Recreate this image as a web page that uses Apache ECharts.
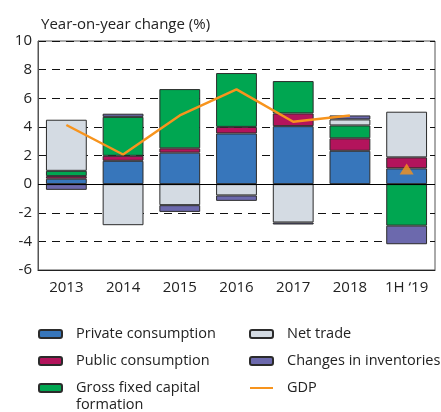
<!DOCTYPE html>
<html>
<head>
<meta charset="utf-8">
<script src="https://cdn.jsdelivr.net/npm/echarts@6/dist/echarts.min.js"></script>
<style>
  html, body { margin: 0; padding: 0; background: #fff; }
  #chart { width: 441px; height: 412px; }
</style>
</head>
<body>
<div id="chart"></div>
<script>
// categories and values (percentage points)
const years = ['2013', '2014', '2015', '2016', '2017', '2018', '1H \u201819']
const privateCons = [0.38, 1.63, 2.2, 3.54, 4.05, 2.33, 1.1]
const publicCons = [0.18, 0.35, 0.3, 0.46, 0.89, 0.87, 0.77]
const grossFixed = [0.37, 2.72, 4.14, 3.76, 2.26, 0.9, -2.9]
const netTrade = [3.57, -2.87, -1.47, -0.79, -2.68, 0.42, 3.19]
const inventories = [-0.4, 0.22, -0.47, -0.38, -0.14, 0.28, -1.3]
const gdp = [4.13, 2.07, 4.8, 6.62, 4.36, 4.8, null]
const gdpHalf = [null, null, null, null, null, null, 1.05]
const yTicks = { min: -6, max: 10, step: 2 }

const font = 'Open Sans'
const border = '#2b2b2b'

function barSeries(name, data, color) {
  return {
    name: name,
    type: 'bar',
    stack: 'total',
    barWidth: '72%',
    data: data,
    itemStyle: { color: color, borderColor: border, borderWidth: 1 },
  }
}

const legendText = { fontFamily: font, fontSize: 14.5, color: '#222', lineHeight: 16, padding: [0, 0, 0, 9] }

const chart = echarts.init(document.getElementById('chart'))
chart.setOption({
  animation: false,
  textStyle: { fontFamily: font },
  title: {
    text: 'Year-on-year change (%)',
    left: 36,
    top: 12,
    textStyle: { fontFamily: font, fontSize: 15, fontWeight: 'normal', color: '#222' },
  },
  grid: {
    left: 38, right: 6, top: 41, bottom: 142,
    show: true, borderColor: '#555', borderWidth: 1,
  },
  // second line of the long legend label
  graphic: [
    {
      type: 'text',
      left: 76, top: 397,
      style: { text: 'formation', fontFamily: font, fontSize: 14.5, fill: '#222' },
    },
  ],
  legend: [
    {
      left: 38, top: 326, orient: 'vertical', padding: 0,
      itemWidth: 23, itemHeight: 8, itemGap: 11,
      data: ['Private consumption', 'Public consumption', 'Gross fixed capital formation'],
      formatter: name => name === 'Gross fixed capital formation' ? 'Gross fixed capital' : name,
      textStyle: legendText,
    },
    {
      left: 249, top: 326, orient: 'vertical', padding: 0,
      itemWidth: 23, itemHeight: 8, itemGap: 11,
      data: [
        'Net trade',
        'Changes in inventories',
        { name: 'GDP', itemStyle: { color: 'rgba(0,0,0,0)', borderWidth: 0 } },
      ],
      textStyle: legendText,
    },
  ],
  xAxis: {
    type: 'category',
    data: years,
    axisLine: { onZero: false, lineStyle: { color: '#222' } },
    axisTick: { length: 6, lineStyle: { color: '#222' } },
    axisLabel: { fontFamily: font, fontSize: 15, color: '#222', margin: 10 },
  },
  yAxis: {
    type: 'value',
    min: yTicks.min, max: yTicks.max, interval: yTicks.step,
    axisLine: { show: true, lineStyle: { color: '#555' } },
    axisTick: { show: false },
    axisLabel: { fontFamily: font, fontSize: 15, color: '#222', margin: 6 },
    splitLine: {
      show: true,
      lineStyle: { color: '#111', type: [8, 6], width: 1 },
    },
  },
  series: [
    Object.assign(barSeries('Private consumption', privateCons, '#3776bb'), {
      markLine: {
        silent: true, symbol: 'none', label: { show: false },
        lineStyle: { color: '#000', type: 'solid', width: 1 },
        data: [{ yAxis: 0 }],
      },
    }),
    barSeries('Public consumption', publicCons, '#b3145c'),
    barSeries('Gross fixed capital formation', grossFixed, '#00a651'),
    barSeries('Net trade', netTrade, '#d4dbe3'),
    barSeries('Changes in inventories', inventories, '#6c69ad'),
    {
      name: 'GDP',
      type: 'line',
      data: gdp,
      symbol: 'none',
      lineStyle: { color: '#f7941d', width: 2.5 },
      itemStyle: { color: '#f7941d' },
      z: 5,
    },
    {
      name: 'GDP 1H',
      type: 'scatter',
      data: gdpHalf,
      symbol: 'triangle',
      symbolSize: [14, 11],
      itemStyle: { color: '#f7941d' },
      z: 5,
    },
  ],
})
</script>
</body>
</html>
